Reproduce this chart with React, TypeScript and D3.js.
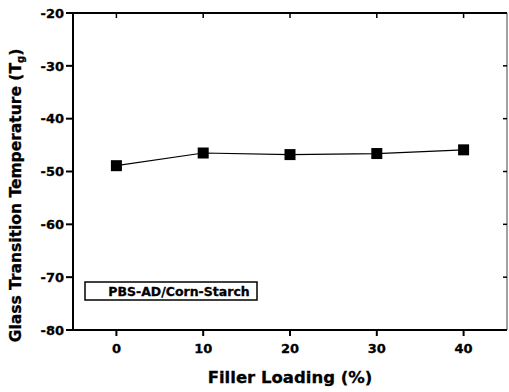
import React from 'react';
import * as d3 from 'd3';

const loadings = [0, 10, 20, 30, 40];
const tgValues = [-48.9, -46.5, -46.8, -46.6, -45.9];
const xTicks = [0, 10, 20, 30, 40];
const yTicks = [-20, -30, -40, -50, -60, -70, -80];
const seriesLabel = 'PBS-AD/Corn-Starch';

const W = 509;
const H = 392;
const margin = { left: 73, right: 2, top: 13, bottom: 62 };

export default function App() {
  const x = d3.scaleLinear().domain([-5, 45]).range([margin.left, W - margin.right]);
  const y = d3.scaleLinear().domain([-80, -20]).range([H - margin.bottom, margin.top]);
  const line = d3.line<number>()
    .x((_, i) => x(loadings[i]))
    .y(d => y(d));
  const font = '"DejaVu Sans", Arial, sans-serif';
  const x0 = x(-5), x1 = x(45), y0 = y(-80), y1 = y(-20);

  return (
    <svg width={W} height={H} style={{ position: 'absolute', left: 0, top: 0, background: '#fff' }}
      fontFamily={font} fontWeight="bold">
      {/* frame */}
      <line x1={x0} y1={y0} x2={x1} y2={y0} stroke="#000" strokeWidth={2} />
      <line x1={x0} y1={y1} x2={x1} y2={y1} stroke="#000" strokeWidth={2} />
      <line x1={x0} y1={y0} x2={x0} y2={y1} stroke="#000" strokeWidth={2} />
      <line x1={x1} y1={y0} x2={x1} y2={y1} stroke="#444" strokeWidth={1} />

      {yTicks.map(t => (
        <g key={t}>
          <line x1={x0 - 7} x2={x0} y1={y(t)} y2={y(t)} stroke="#000" strokeWidth={2} />
          <line x1={x1 - 4} x2={x1} y1={y(t)} y2={y(t)} stroke="#000" strokeWidth={1.5} />
          <text x={x0 - 9} y={y(t)} dy="0.36em" textAnchor="end" fontSize={13}
            stroke="#000" strokeWidth={0.3}>{t}</text>
        </g>
      ))}
      {xTicks.map(t => (
        <g key={t}>
          <line x1={x(t)} x2={x(t)} y1={y0} y2={y0 + 6} stroke="#000" strokeWidth={2} />
          <line x1={x(t)} x2={x(t)} y1={y1} y2={y1 + 5} stroke="#000" strokeWidth={1.5} />
          <text x={x(t)} y={y0 + 23} textAnchor="middle" fontSize={13}
            stroke="#000" strokeWidth={0.3}>{t}</text>
        </g>
      ))}

      <path d={line(tgValues) ?? ''} fill="none" stroke="#000" strokeWidth={1.2} />
      {tgValues.map((v, i) => (
        <rect key={i} x={x(loadings[i]) - 5.5} y={y(v) - 5.5} width={11} height={11} fill="#000" />
      ))}

      <rect x={85} y={282} width={172} height={18} fill="#fff" stroke="#000" strokeWidth={1.5} />
      <text x={179} y={291} dy="0.36em" textAnchor="middle" fontSize={12.5}
        stroke="#000" strokeWidth={0.3}>{seriesLabel}</text>

      <text x={(x0 + x1) / 2} y={383} textAnchor="middle" fontSize={16.5}
        stroke="#000" strokeWidth={0.3}>Filler Loading (%)</text>
      <text transform={`translate(21, ${(y0 + y1) / 2 + 24}) rotate(-90)`} textAnchor="middle" fontSize={15.5}
        stroke="#000" strokeWidth={0.3}>
        Glass Transition Temperature (T<tspan fontSize={10} dy="3">g</tspan><tspan dy="-3">)</tspan>
      </text>
    </svg>
  );
}
